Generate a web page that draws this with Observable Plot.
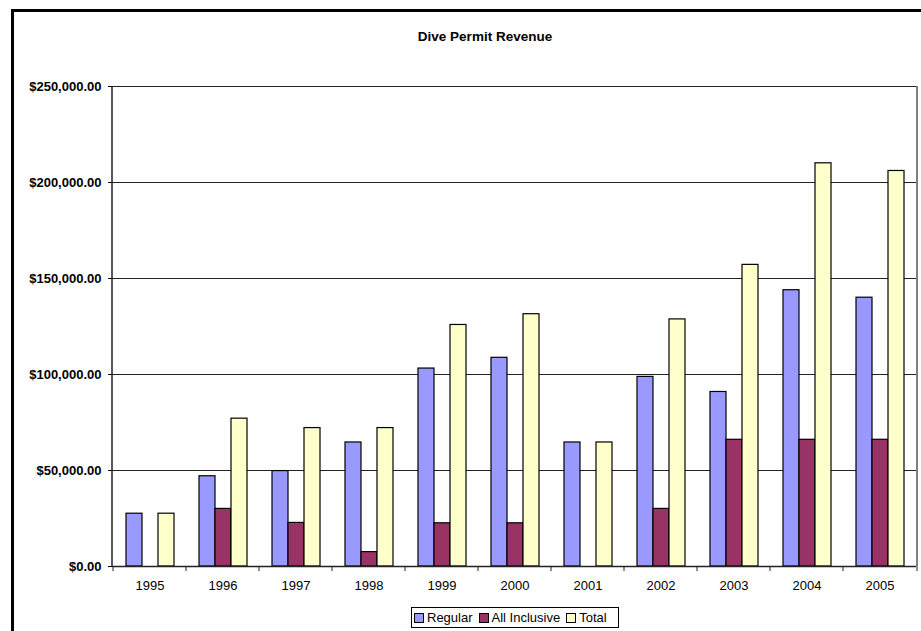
<!DOCTYPE html>
<html>
<head>
<meta charset="utf-8">
<script src="https://cdn.jsdelivr.net/npm/d3@7"></script>
<script src="https://cdn.jsdelivr.net/npm/@observablehq/plot@0.6"></script>
<style>
  html, body { margin: 0; padding: 0; background: #fff; overflow: hidden; }
  #chart { position: relative; width: 921px; height: 631px; overflow: hidden;
           font-family: "Liberation Sans", Arial, sans-serif; }
  #edge { position: absolute; left: 11px; top: 9px; width: 2000px; height: 2000px;
          border-left: 3px solid #000; border-top: 3px solid #000; }
  #title { position: absolute; top: 29px; left: 385px; width: 200px; text-align: center;
           font-weight: bold; font-size: 13.5px; color: #000; }
  #plot { position: absolute; left: 0; top: 0; }
  #legend { position: absolute; left: 411px; top: 607px; width: 206px; height: 19px;
            border: 1px solid #000; display: flex; align-items: center;
            font-size: 13px; color: #000; box-sizing: content-box; }
  #legend .item { display: flex; align-items: center; margin-left: 2px; margin-right: 4px; }
  #legend .sw { width: 8px; height: 8px; border: 1px solid #000; margin-right: 3px; }
</style>
</head>
<body>
<div id="chart">
  <div id="edge"></div>
  <div id="title">Dive Permit Revenue</div>
  <div id="plot"></div>
  <div id="legend"></div>
</div>
<script>
// Dive permit revenue by year, in dollars
const years = ["1995", "1996", "1997", "1998", "1999", "2000", "2001", "2002", "2003", "2004", "2005"];
const regular = [27500, 47000, 49700, 64600, 103100, 108700, 64600, 98750, 90900, 143900, 140000];
const allInclusive = [0, 30000, 22700, 7500, 22500, 22500, 0, 30000, 66000, 66000, 66000];
const total = [27500, 77000, 72100, 72100, 125800, 131400, 64600, 128700, 157100, 210000, 206000];

const seriesNames = ["Regular", "All Inclusive", "Total"];
const seriesColors = ["#9999FF", "#993366", "#FFFFCC"];
const yTicks = [0, 50000, 100000, 150000, 200000, 250000];

const seriesValues = [regular, allInclusive, total];
const rows = [];
years.forEach((year, i) => {
  seriesNames.forEach((name, s) => {
    const value = seriesValues[s][i];
    if (value > 0) rows.push({year, series: name, value});
  });
});

const money = d3.format(",.2f");

const plot = Plot.plot({
  width: 921,
  height: 600,
  marginTop: 86,
  marginLeft: 112,
  marginRight: 4,
  marginBottom: 34,
  style: {fontFamily: "'Liberation Sans', Arial, sans-serif", fontSize: "13px", color: "#000", background: "transparent"},
  fx: {domain: years, padding: 0, label: null, tickSize: 0, tickPadding: 14, axis: "bottom"},
  x: {domain: seriesNames, paddingInner: 0, paddingOuter: 0.75, axis: null},
  y: {domain: [0, 250000], ticks: yTicks, tickFormat: d => "$" + money(d), tickSize: 5, tickPadding: 7, label: null},
  color: {domain: seriesNames, range: seriesColors},
  marks: [
    Plot.ruleY(yTicks, {stroke: "#222", strokeWidth: 1}),
    Plot.barY(rows, {fx: "year", x: "series", y: "value", fill: "series", stroke: "#000", strokeWidth: 1.2}),
    Plot.ruleY([0], {stroke: "#222", strokeWidth: 1.5})
  ]
});

// Frame sides and category boundary ticks from the plot's own scales
const svg = d3.select(plot.tagName.toLowerCase() === "svg" ? plot : plot.querySelector("svg"));
const fx = plot.scale("fx");
const y = plot.scale("y");
const left = fx.range[0], right = fx.range[1];
const y0 = y.apply(0), yTop = y.apply(250000);
const g = svg.append("g").attr("stroke", "#222").attr("fill", "none");
g.append("line").attr("x1", left).attr("x2", left).attr("y1", yTop).attr("y2", y0).attr("stroke-width", 1.5);
g.append("line").attr("x1", right).attr("x2", right).attr("y1", yTop).attr("y2", y0).attr("stroke", "#000");
years.concat([null]).forEach((yr) => {
  const xv = yr === null ? right : fx.apply(yr);
  g.append("line").attr("x1", xv).attr("x2", xv).attr("y1", y0).attr("y2", y0 + 5);
});
// Bold value labels on the y axis
svg.selectAll('g[aria-label="y-axis tick label"] text, g[aria-label="y-axis"] text').attr("font-weight", "bold");

document.getElementById("plot").appendChild(plot);

// Legend
const legend = d3.select("#legend");
seriesNames.forEach((name, i) => {
  const item = legend.append("div").attr("class", "item");
  item.append("div").attr("class", "sw").style("background", seriesColors[i]);
  item.append("span").text(name);
});
</script>
</body>
</html>
